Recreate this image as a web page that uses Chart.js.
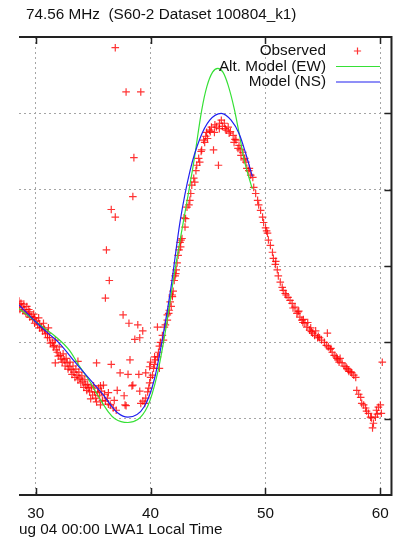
<!DOCTYPE html>
<html><head><meta charset="utf-8">
<script src="https://cdn.jsdelivr.net/npm/chart.js@4"></script>
<style>html,body{margin:0;padding:0;background:#fff;overflow:hidden}canvas{display:block}</style>
</head><body>
<canvas id="c" width="399" height="544"></canvas>
<script>
const titleText = "74.56 MHz  (S60-2 Dataset 100804_k1)";
const xAxisTitle = "ug 04 00:00 LWA1 Local Time";
const xTickValues = [30, 40, 50, 60];
const yTickValues = [1, 2, 3, 4, 5];
const legendLabels = ["Observed", "Alt. Model (EW)", "Model (NS)"];

// Observed (hours, relative units)
const obsX = [
 28.55,28.55,28.63,28.72,28.80,28.89,29.06,29.15,29.23,29.32,29.49,29.49,29.66,29.74,29.91,29.91,30.09,30.17,30.34,30.34,
 30.51,30.60,30.77,30.85,31.03,31.03,31.20,31.28,31.45,31.54,31.62,31.79,31.88,31.97,32.14,32.22,32.31,32.48,32.56,32.74,
 32.82,32.91,33.08,33.16,33.33,33.42,33.59,33.68,33.85,33.93,34.10,34.19,34.36,34.45,34.62,34.70,34.87,34.96,35.13,35.21,
 35.39,35.47,35.56,35.73,35.81,35.99,36.07,36.24,36.33,36.50,36.75,37.01,
 28.97,29.40,29.83,30.26,30.68,31.11,31.71,32.05,32.39,32.65,32.99,33.25,33.50,33.76,34.02,34.28,34.53,34.79,35.04,35.30,35.64,35.90,
 37.87,39.33,39.50,39.58,39.75,39.84,39.92,40.00,40.17,40.26,40.35,40.43,40.60,40.69,40.77,40.86,41.03,41.12,41.20,41.29,
 41.46,41.46,41.63,41.71,41.80,41.88,41.97,42.06,42.14,42.23,42.31,42.40,42.48,42.57,42.65,42.74,42.91,43.00,43.17,43.34,
 43.42,43.59,43.76,43.85,44.02,44.19,44.28,44.45,44.62,44.71,44.88,44.96,45.13,45.30,45.48,45.56,45.73,45.91,45.99,46.16,
 46.25,46.42,46.59,46.76,46.84,47.19,47.27,47.44,47.61,47.70,47.87,48.04,48.13,48.30,48.38,48.55,48.72,48.90,48.98,49.15,
 49.32,49.41,49.58,49.75,49.84,50.01,50.18,50.26,50.43,50.61,50.69,50.86,51.03,51.12,51.29,51.46,51.55,51.72,51.97,52.14,
 52.32,52.40,52.57,52.74,52.83,53.00,53.17,53.26,53.43,53.60,53.68,53.85,53.94,54.11,54.28,54.37,54.54,54.71,54.88,55.13,
 55.30,55.39,55.47,55.64,55.81,55.98,56.15,56.24,56.41,56.50,56.67,56.84,57.01,57.09,57.26,57.44,57.52,57.69,57.86,57.95,
 58.12,58.29,58.38,58.55,58.72,58.80,58.97,59.15,59.23,59.40,59.32,59.57,59.66,59.74,59.83,60.00,60.09,60.17,
 36.93,37.87,39.15,38.55,38.46,36.58,36.93,36.16,36.41,36.07,37.61,38.12,38.89,38.63,39.06,39.32,40.60,35.30,36.58,38.21,
 37.35,38.04,38.98,38.38,37.10,39.06,36.84,36.33,35.64,31.71,33.68,39.92,40.77,39.58,40.35,40.00,37.78,39.15,38.46,37.70,
 41.58,41.90,42.20,42.62,43.05,43.50,43.95,44.40,44.80,45.20,45.60,46.00,46.50,46.95,47.35,47.80,48.20,48.60,50.10,50.90,
 51.80,52.90,53.30,54.00,54.60,55.70,56.30,57.20
];
const obsY = [
 2.54,2.49,2.43,2.51,2.46,2.41,2.43,2.38,2.47,2.37,2.40,2.33,2.34,2.30,2.32,2.25,2.28,2.23,2.24,2.19,
 2.20,2.15,2.17,2.11,2.12,2.06,2.06,1.99,2.00,1.94,1.96,1.90,1.87,1.82,1.83,1.78,1.74,1.77,1.69,1.73,
 1.65,1.68,1.64,1.58,1.61,1.54,1.57,1.51,1.53,1.47,1.49,1.41,1.44,1.37,1.40,1.35,1.41,1.31,1.35,1.27,
 1.34,1.40,1.30,1.36,1.24,1.32,1.23,1.27,1.19,1.18,1.14,1.11,
 2.50,2.43,2.37,2.32,2.25,2.19,2.03,1.94,1.85,1.79,1.74,1.69,1.65,1.61,1.56,1.51,1.45,1.26,1.43,1.22,1.18,1.44,
 1.17,1.23,1.20,1.27,1.35,1.40,1.47,1.54,1.57,1.66,1.71,1.77,1.81,1.87,1.95,2.00,2.09,2.03,2.20,2.23,
 2.29,2.36,2.42,2.53,2.47,2.62,2.67,2.81,2.87,2.95,3.04,3.14,3.21,3.31,3.34,3.36,3.63,3.51,3.77,3.80,
 3.86,4.06,4.15,4.10,4.32,4.41,4.36,4.52,4.65,4.62,4.75,4.67,4.78,4.82,4.52,4.75,4.82,4.32,4.80,4.91,
 4.83,4.87,4.78,4.82,4.74,4.71,4.62,4.65,4.54,4.58,4.45,4.49,4.39,4.36,4.28,4.25,4.19,4.16,4.03,3.95,
 3.86,3.80,3.73,3.64,3.57,3.50,3.43,3.34,3.27,3.18,3.10,3.02,2.95,2.87,2.79,2.72,2.68,2.64,2.59,2.55,
 2.51,2.45,2.46,2.38,2.40,2.33,2.29,2.26,2.25,2.20,2.26,2.16,2.19,2.12,2.09,2.15,2.06,2.06,2.03,2.00,
 1.96,2.12,1.94,1.91,1.87,1.83,1.81,1.79,1.74,1.79,1.73,1.69,1.68,1.66,1.62,1.61,1.60,1.57,1.54,1.37,
 1.32,1.28,1.20,1.18,1.14,1.10,1.07,1.02,1.01,0.94,0.88,1.02,1.11,1.06,1.15,1.18,1.07,1.74,
 5.86,5.28,5.28,4.42,3.91,3.74,3.64,3.21,2.81,2.58,2.36,2.25,2.23,2.04,2.06,2.15,2.20,1.73,1.71,1.77,
 1.60,1.58,1.58,1.43,1.37,1.36,1.24,1.34,1.43,1.73,1.75,1.68,1.66,1.60,1.81,1.74,1.18,1.20,1.44,1.30,
 2.38,2.60,2.90,3.25,3.62,3.95,4.25,4.50,4.70,4.76,4.85,4.87,4.80,4.76,4.66,4.52,4.41,4.28,3.46,3.06,
 2.62,2.41,2.30,2.14,2.08,1.92,1.77,1.64
];

// Alt. Model (EW)
const ewX = [28.55,30.62,31.77,32.91,33.76,34.62,35.47,36.32,36.90,38.03,39.74,40.60,41.31,42.03,42.88,43.74,44.45,44.90,45.40,45.85,46.30,46.75,47.30,47.72,48.15,48.72,48.86];
const ewY = [2.44,2.20,2.07,1.90,1.70,1.51,1.29,1.09,1.00,0.95,1.16,1.59,2.16,2.86,3.60,4.34,5.04,5.35,5.54,5.59,5.54,5.37,5.05,4.73,4.39,4.08,4.01];

// Model (NS)
const nsX = [28.55,30.00,31.00,32.05,33.48,34.62,35.73,37.18,38.03,39.46,40.32,41.17,41.74,42.59,43.44,44.30,45.15,46.15,47.01,47.72,48.29,48.86];
const nsY = [2.49,2.27,2.13,1.99,1.73,1.53,1.34,1.07,1.02,1.16,1.51,2.16,2.68,3.60,4.25,4.67,4.91,5.00,4.91,4.73,4.47,4.17];

const FONT = "'Liberation Sans', Arial, sans-serif";
const FS = 15.3;
const RED = 'rgba(255,0,0,0.8)';
const GREEN = '#36e036';
const BLUE = '#2020f0';

const toPts = (xs, ys) => xs.map((x, i) => ({x, y: ys[i]}));

const framePlugin = {
  id: 'frame',
  afterDatasetsDraw(chart) {
    const {ctx, chartArea: a, scales: {x, y}} = chart;
    ctx.save();
    ctx.strokeStyle = '#222';
    ctx.lineWidth = 1.5;
    // inward ticks
    ctx.beginPath();
    xTickValues.forEach(v => {
      const px = Math.round(x.getPixelForValue(v)) + 0.5;
      ctx.moveTo(px, a.bottom); ctx.lineTo(px, a.bottom - 7);
      ctx.moveTo(px, a.top); ctx.lineTo(px, a.top + 7);
    });
    yTickValues.forEach(v => {
      const py = Math.round(y.getPixelForValue(v)) + 0.5;
      ctx.moveTo(a.right, py); ctx.lineTo(a.right - 7, py);
    });
    ctx.stroke();
    // border (top, right, bottom)
    ctx.lineWidth = 2;
    ctx.beginPath();
    ctx.moveTo(a.left, a.top); ctx.lineTo(a.right, a.top);
    ctx.lineTo(a.right, a.bottom); ctx.lineTo(a.left, a.bottom);
    ctx.stroke();
    // title
    ctx.fillStyle = '#111';
    ctx.font = FS + 'px ' + FONT;
    ctx.textBaseline = 'middle';
    ctx.textAlign = 'left';
    ctx.fillText(titleText, 26, 15);
    // legend (gnuplot style: text right-aligned, sample on the right)
    const rows = [51, 66.5, 82];
    ctx.textAlign = 'right';
    legendLabels.forEach((t, i) => ctx.fillText(t, 326, rows[i]));
    ctx.strokeStyle = RED; ctx.lineWidth = 1.2;
    ctx.beginPath();
    ctx.moveTo(357.5 - 3.6, rows[0]); ctx.lineTo(357.5 + 3.6, rows[0]);
    ctx.moveTo(357.5, rows[0] - 3.6); ctx.lineTo(357.5, rows[0] + 3.6);
    ctx.stroke();
    ctx.lineWidth = 1.2;
    ctx.strokeStyle = GREEN;
    ctx.beginPath(); ctx.moveTo(336, rows[1]); ctx.lineTo(380, rows[1]); ctx.stroke();
    ctx.strokeStyle = BLUE;
    ctx.beginPath(); ctx.moveTo(336, rows[2]); ctx.lineTo(380, rows[2]); ctx.stroke();
    ctx.restore();
  }
};

new Chart(document.getElementById('c'), {
  type: 'scatter',
  data: {
    datasets: [
      {label: legendLabels[2], data: toPts(nsX, nsY), showLine: true, borderColor: BLUE, borderWidth: 1.2,
       pointRadius: 0, cubicInterpolationMode: 'monotone', order: 1},
      {label: legendLabels[1], data: toPts(ewX, ewY), showLine: true, borderColor: GREEN, borderWidth: 1.2,
       pointRadius: 0, cubicInterpolationMode: 'monotone', order: 2},
      {label: legendLabels[0], data: toPts(obsX, obsY), showLine: false, pointStyle: 'cross',
       pointRadius: 3.8, pointBorderWidth: 1.2, borderColor: RED, backgroundColor: RED, order: 3}
    ]
  },
  options: {
    responsive: false,
    animation: false,
    devicePixelRatio: 1,
    layout: {padding: {left: 19, right: 1, top: 37, bottom: 0}},
    plugins: {legend: {display: false}, tooltip: {enabled: false}, title: {display: false}},
    scales: {
      x: {
        type: 'linear', position: 'bottom', min: 28.55, max: 60.97,
        afterBuildTicks: s => { s.ticks = xTickValues.map(v => ({value: v})); },
        afterFit: s => { s.height = 49; },
        grid: {color: '#a5a5a5', lineWidth: 1, drawTicks: false},
        border: {display: false, dash: [2, 3]},
        ticks: {color: '#111', font: {family: FONT, size: FS}, padding: 10, maxRotation: 0, autoSkip: false},
        title: {display: true, text: xAxisTitle, align: 'start', color: '#111',
                font: {family: FONT, size: FS}, padding: {top: 0, bottom: 5}}
      },
      y: {
        type: 'linear', position: 'left', min: 0, max: 6,
        afterBuildTicks: s => { s.ticks = yTickValues.map(v => ({value: v})); },
        afterFit: s => { s.width = 0; },
        grid: {color: '#a5a5a5', lineWidth: 1, drawTicks: false},
        border: {display: false, dash: [2, 3]},
        ticks: {display: false}
      }
    }
  },
  plugins: [framePlugin]
});
</script>
</body></html>
